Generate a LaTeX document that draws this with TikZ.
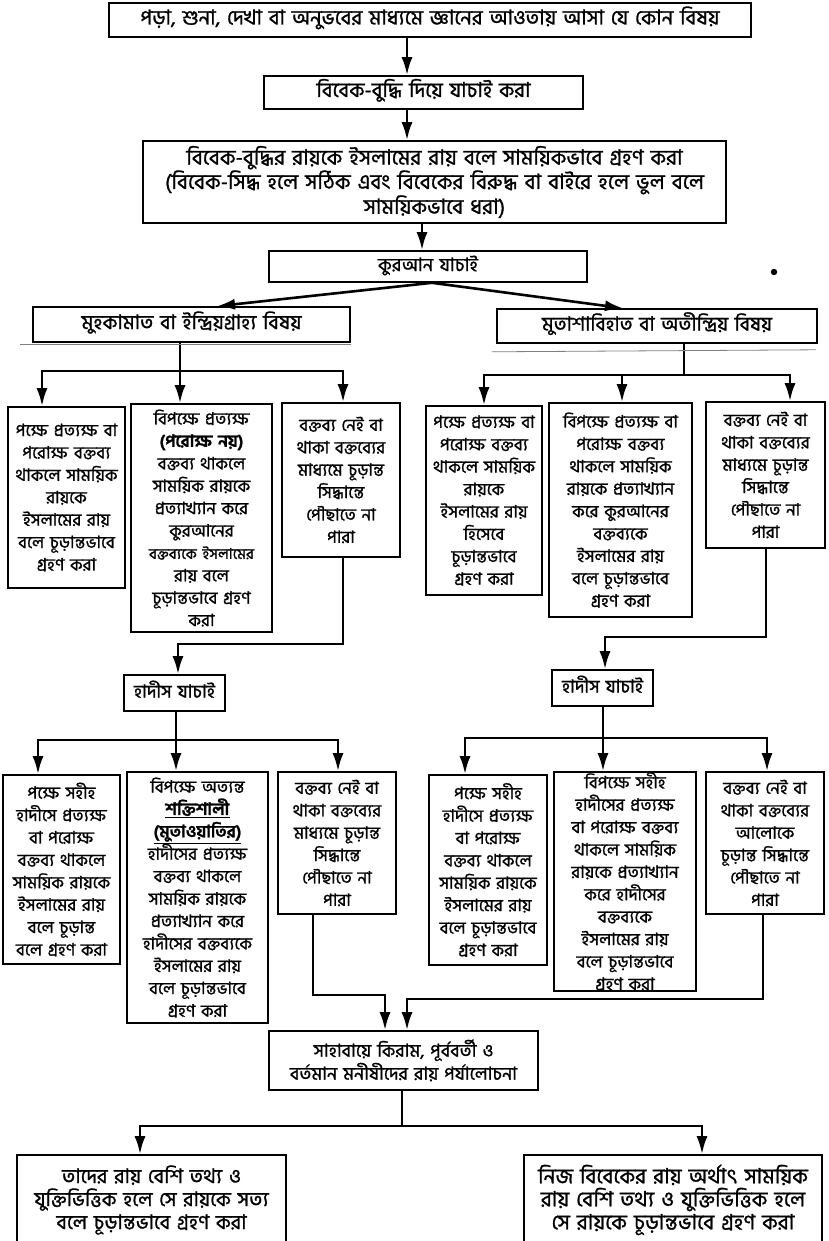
\documentclass[tikz,border=0pt]{standalone}
\usepackage{fontspec}
\newfontfamily\bn[Script=Bengali,FakeBold=1.2]{Hind Siliguri}
\usetikzlibrary{arrows.meta}
\newcommand\bx[7][]{\node[box,#1,minimum width=#5pt,minimum height=#6pt,text width=\dimexpr#5pt-6pt\relax] (#2) at (#3,#4) {#7};}
\newcommand\fs[2]{\fontsize{#1}{#2}\selectfont}
\begin{document}
\begin{tikzpicture}[x=1pt,y=-1pt,
  box/.style={draw,line width=1.6pt,align=center,inner xsep=3pt,inner ysep=0pt,
     font=\bn\fs{17}{22.4}},
  one/.style={text height=15pt,text depth=6pt},
  wire/.style={line width=2.6pt},
  arr/.style={line width=2.6pt,-{Latex[length=18pt,width=11pt]}},
  scribble/.style={line width=0.8pt,gray}]
\useasboundingbox (0,0) rectangle (829,1241);
% nodes
\bx[one,font=\bn\fs{20.5}{22}]{b1}{430}{20}{642}{34}{পড়া, শুনা, দেখা বা অনুভবের মাধ্যমে জ্ঞানের আওতায় আসা যে কোন বিষয়}
\bx[one,font=\bn\fs{20.5}{22}]{b2}{423.5}{92.5}{319}{33}{বিবেক-বুদ্ধি দিয়ে যাচাই করা}
\bx[font=\bn\fs{21}{22}]{b3}{434.5}{182}{583}{82}{বিবেক-বুদ্ধির রায়কে ইসলামের রায় বলে সাময়িকভাবে গ্রহণ করা\\(বিবেক-সিদ্ধ হলে সঠিক এবং বিবেকের বিরুদ্ধ বা বাইরে হলে ভুল বলে\\সাময়িকভাবে ধরা)}
\bx[one,font=\bn\fs{18.5}{22}]{b4}{428}{266.5}{318}{31}{কুরআন যাচাই}
\bx[one,font=\bn\fs{20}{22}]{L1}{191.5}{324.5}{317}{35}{মুহকামাত বা ইন্দ্রিয়গ্রাহ্য বিষয়}
\bx[one,font=\bn\fs{19.5}{22}]{R1}{657}{326}{320}{34}{মুতাশাবিহাত বা অতীন্দ্রিয় বিষয়}
\bx{LA}{66.5}{497.5}{117}{181}{পক্ষে প্রত্যক্ষ বা\\পরোক্ষ বক্তব্য\\থাকলে সাময়িক\\রায়কে\\ইসলামের রায়\\বলে চূড়ান্তভাবে\\গ্রহণ করা}
\bx{LB}{201.5}{518}{141}{228}{বিপক্ষে প্রত্যক্ষ\\\textbf{(পরোক্ষ নয়)}\\বক্তব্য থাকলে\\সাময়িক রায়কে\\প্রত্যাখ্যান করে\\কুরআনের\\{\fs{15}{22.4}বক্তব্যকে ইসলামের}\\রায় বলে\\চূড়ান্তভাবে গ্রহণ\\করা}
\bx{LC}{341}{480}{118}{154}{বক্তব্য নেই বা\\থাকা বক্তব্যের\\মাধ্যমে চূড়ান্ত\\সিদ্ধান্তে\\পৌছাতে না\\পারা}
\bx{RA}{484}{500.5}{116}{189}{পক্ষে প্রত্যক্ষ বা\\পরোক্ষ বক্তব্য\\থাকলে সাময়িক\\রায়কে\\ইসলামের রায়\\হিসেবে\\চূড়ান্তভাবে\\গ্রহণ করা}
\bx{RB}{620.5}{510}{143}{214}{বিপক্ষে প্রত্যক্ষ বা\\পরোক্ষ বক্তব্য\\থাকলে সাময়িক\\রায়কে প্রত্যাখ্যান\\করে কুরআনের\\বক্তব্যকে\\ইসলামের রায়\\বলে চূড়ান্তভাবে\\গ্রহণ করা}
\bx{RC}{765.5}{475}{119}{146}{বক্তব্য নেই বা\\থাকা বক্তব্যের\\মাধ্যমে চূড়ান্ত\\সিদ্ধান্তে\\পৌছাতে না\\পারা}
\bx[one,font=\bn\fs{18}{22}]{H1}{174.5}{693}{101}{36}{হাদীস যাচাই}
\bx[one,font=\bn\fs{18}{22}]{H2}{602.5}{688}{101}{36}{হাদীস যাচাই}
\bx{HA}{61.5}{869.5}{117}{189}{পক্ষে সহীহ\\হাদীসে প্রত্যক্ষ\\বা পরোক্ষ\\বক্তব্য থাকলে\\সাময়িক রায়কে\\ইসলামের রায়\\বলে চূড়ান্ত\\বলে গ্রহণ করা}
\bx{HB}{197.5}{897.5}{141}{251}{বিপক্ষে অত্যন্ত\\\underline{\textbf{শক্তিশালী}}\\\underline{\textbf{(মুতাওয়াতির)}}\\হাদীসের প্রত্যক্ষ\\বক্তব্য থাকলে\\সাময়িক রায়কে\\প্রত্যাখ্যান করে\\হাদীসের বক্তব্যকে\\ইসলামের রায়\\বলে চূড়ান্তভাবে\\গ্রহণ করা}
\bx{HC}{337}{843}{118}{142}{বক্তব্য নেই বা\\থাকা বক্তব্যের\\মাধ্যমে চূড়ান্ত\\সিদ্ধান্তে\\পৌছাতে না\\পারা}
\bx{HA2}{488}{870}{118}{190}{পক্ষে সহীহ\\হাদীসে প্রত্যক্ষ\\বা পরোক্ষ\\বক্তব্য থাকলে\\সাময়িক রায়কে\\ইসলামের রায়\\বলে চূড়ান্তভাবে\\গ্রহণ করা}
\bx{HB2}{625}{881.5}{142}{219}{বিপক্ষে সহীহ\\হাদীসের প্রত্যক্ষ\\বা পরোক্ষ বক্তব্য\\থাকলে সাময়িক\\রায়কে প্রত্যাখ্যান\\করে হাদীসের\\বক্তব্যকে\\ইসলামের রায়\\বলে চূড়ান্তভাবে\\গ্রহণ করা}
\bx{HC2}{765}{843}{118}{142}{বক্তব্য নেই বা\\থাকা বক্তব্যের\\আলোকে\\চূড়ান্ত সিদ্ধান্তে\\পৌছাতে না\\পারা}
\bx[font=\bn\fs{18}{23}]{S}{403.5}{1060.5}{269}{59}{সাহাবায়ে কিরাম, পূর্ববর্তী ও\\বর্তমান মনীষীদের রায় পর্যালোচনা}
\bx[font=\bn\fs{20}{23}]{F1}{151.5}{1200}{269}{90}{তাদের রায় বেশি তথ্য ও\\যুক্তিভিত্তিক হলে সে রায়কে সত্য\\বলে চূড়ান্তভাবে গ্রহণ করা}
\bx[font=\bn\fs{21}{23}]{F2}{673}{1200}{298}{90}{নিজ বিবেকের রায় অর্থাৎ সাময়িক\\রায় বেশি তথ্য ও যুক্তিভিত্তিক হলে\\সে রায়কে চূড়ান্তভাবে গ্রহণ করা}
% coordinates for connector columns and bars
\coordinate (c1) at (407,0);
\coordinate (c3) at (422,0);
\coordinate (d0) at (432,282);
\coordinate (dL) at (217,0);
\coordinate (dR) at (623,0);
\coordinate (lbar) at (180,371);
\coordinate (lbarA) at (42,371);
\coordinate (lbarC) at (343,371);
\coordinate (rbar) at (684,375);
\coordinate (rbarA) at (484,375);
\coordinate (rbarB) at (622,375);
\coordinate (rbarC) at (790,375);
\coordinate (lk) at (343,644);
\coordinate (lk2) at (178,644);
\coordinate (rk) at (766,637);
\coordinate (rk2) at (605,637);
\coordinate (hbar) at (176,740);
\coordinate (hbarA) at (38,740);
\coordinate (hbarC) at (338,740);
\coordinate (hbar2) at (603,738);
\coordinate (hbar2A) at (465,738);
\coordinate (hbar2C) at (767,738);
\coordinate (sk) at (313,995);
\coordinate (sk2) at (385,995);
\coordinate (tk) at (763,999);
\coordinate (tk2) at (407,999);
\coordinate (fbar) at (402,1126);
\coordinate (fbarA) at (140,1126);
\coordinate (fbarB) at (702,1126);
% connectors
\draw[arr] (b1.south -| c1) -- (b2.north -| c1);
\draw[arr] (b2.south -| c1) -- (b3.north -| c1);
\draw[arr] (b3.south -| c3) -- (b4.north -| c3);
\draw[arr] (b4.south -| d0) -- (L1.north -| dL);
\draw[arr] (b4.south -| d0) -- (R1.north -| dR);
% left quran branch
\draw[arr] (L1.south -| lbar) -- (lbar) -- (LB.north -| lbar);
\draw[arr] (lbar) -- (lbarA) -- (LA.north -| lbarA);
\draw[arr] (lbar) -- (lbarC) -- (LC.north -| lbarC);
% right quran branch
\draw[wire] (R1.south -| rbar) -- (rbar);
\draw[arr] (rbar) -- (rbarA) -- (RA.north -| rbarA);
\draw[arr] (rbar) -- (rbarC) -- (RC.north -| rbarC);
\draw[arr] (rbarB) -- (RB.north -| rbarB);
% to hadith
\draw[arr] (LC.south -| lk) -- (lk) -- (lk2) -- (H1.north -| lk2);
\draw[arr] (RC.south -| rk) -- (rk) -- (rk2) -- (H2.north -| rk2);
% left hadith branch
\draw[arr] (H1.south -| hbar) -- (hbar) -- (HB.north -| hbar);
\draw[arr] (hbar) -- (hbarA) -- (HA.north -| hbarA);
\draw[arr] (hbar) -- (hbarC) -- (HC.north -| hbarC);
% right hadith branch
\draw[arr] (H2.south -| hbar2) -- (hbar2) -- (HB2.north -| hbar2);
\draw[arr] (hbar2) -- (hbar2A) -- (HA2.north -| hbar2A);
\draw[arr] (hbar2) -- (hbar2C) -- (HC2.north -| hbar2C);
% to sahaba
\draw[arr] (HC.south -| sk) -- (sk) -- (sk2) -- (S.north -| sk2);
\draw[arr] (HC2.south -| tk) -- (tk) -- (tk2) -- (S.north -| tk2);
% final branch
\draw[wire] (S.south -| fbar) -- (fbar);
\draw[arr] (fbar) -- (fbarA) -- (F1.north -| fbarA);
\draw[arr] (fbar) -- (fbarB) -- (F2.north -| fbarB);
% scan marks
\draw[scribble] ([xshift=-12pt,yshift=-2pt]L1.south west) -- ([yshift=-2pt]L1.south east);
\draw[scribble] ([xshift=-4pt,yshift=-8pt]R1.south west) -- ([xshift=-2pt,yshift=-6pt]R1.south east);
\fill (774,272) circle (3.2pt);
\end{tikzpicture}
\end{document}
